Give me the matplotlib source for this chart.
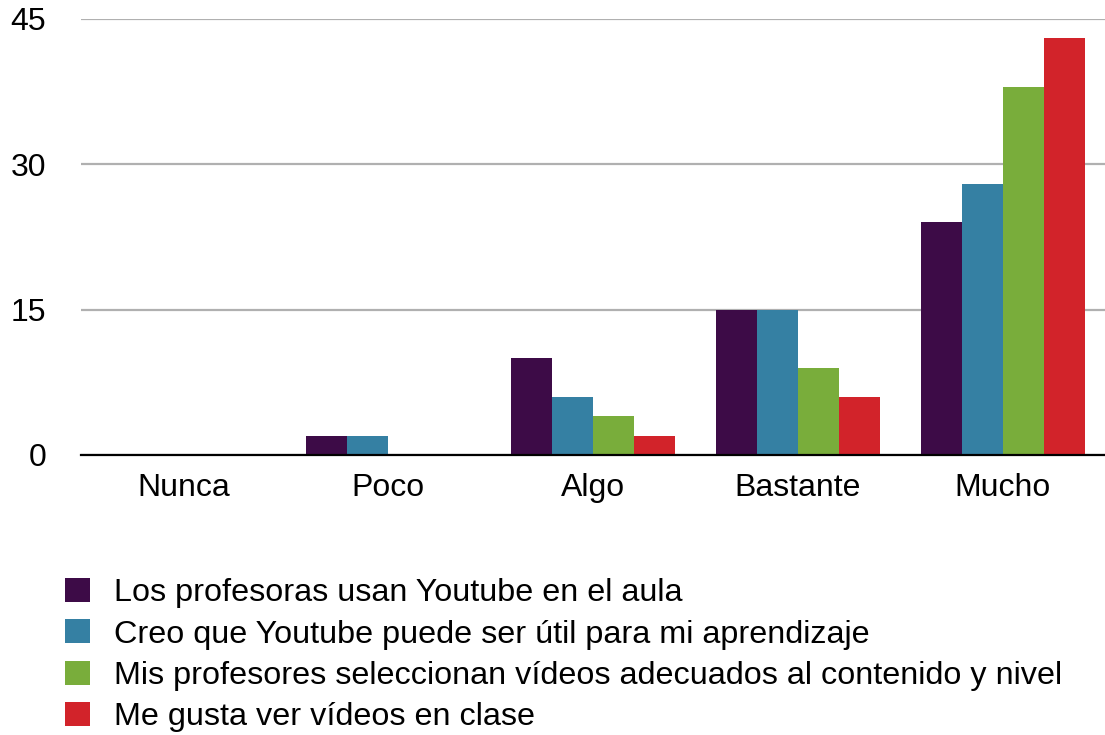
import numpy as np
import matplotlib
matplotlib.use("Agg")
import matplotlib.pyplot as plt
from matplotlib.patches import Patch

plt.rcParams['font.family'] = ['Liberation Sans', 'DejaVu Sans']

categories = ["Nunca", "Poco", "Algo", "Bastante", "Mucho"]
series_names = [
    "Los profesoras usan Youtube en el aula",
    "Creo que Youtube puede ser útil para mi aprendizaje",
    "Mis profesores seleccionan vídeos adecuados al contenido y nivel",
    "Me gusta ver vídeos en clase",
]
usan_aula = [0, 2, 10, 15, 24]
util_aprendizaje = [0, 2, 6, 15, 28]
videos_adecuados = [0, 0, 4, 9, 38]
gusta_clase = [0, 0, 2, 6, 43]
yticks = [0, 15, 30, 45]

colors = ["#3d0b47", "#3580a3", "#79ad3b", "#d2232a"]
all_series = [usan_aula, util_aprendizaje, videos_adecuados, gusta_clase]

fig = plt.figure(figsize=(11.05, 7.35), dpi=100)
ax = fig.add_axes([81/1105, 1-455/735, 1-81/1105, (455-19)/735])

x = np.arange(len(categories))
w = 0.2
for i, (vals, c) in enumerate(zip(all_series, colors)):
    ax.bar(x + (i - 1.5)*w, vals, w, color=c, zorder=3)

ax.set_xlim(-0.5, 4.5)
ax.set_ylim(0, 45)
ax.set_yticks(yticks)
ax.set_xticks(x)
ax.set_xticklabels(categories)
ax.tick_params(axis='both', length=0, labelsize=23)
ax.tick_params(axis='y', pad=25)
ax.tick_params(axis='x', pad=13)
ax.grid(axis='y', color='#b0b0b0', linewidth=1.6, zorder=0)
for s in ['top', 'right', 'left']:
    ax.spines[s].set_visible(False)
ax.spines['bottom'].set_color('black')
ax.spines['bottom'].set_linewidth(1.6)
ax.spines['bottom'].set_zorder(4)

handles = [Patch(facecolor=c, edgecolor='none') for c in colors]
fig.legend(handles, series_names, loc='upper left',
           bbox_to_anchor=(52/1105, 1-565/735), frameon=False,
           fontsize=23.3, handlelength=0.77, handleheight=0.77,
           handletextpad=0.74, labelspacing=0.34, borderaxespad=0)

fig.savefig("out.png", dpi=100)
